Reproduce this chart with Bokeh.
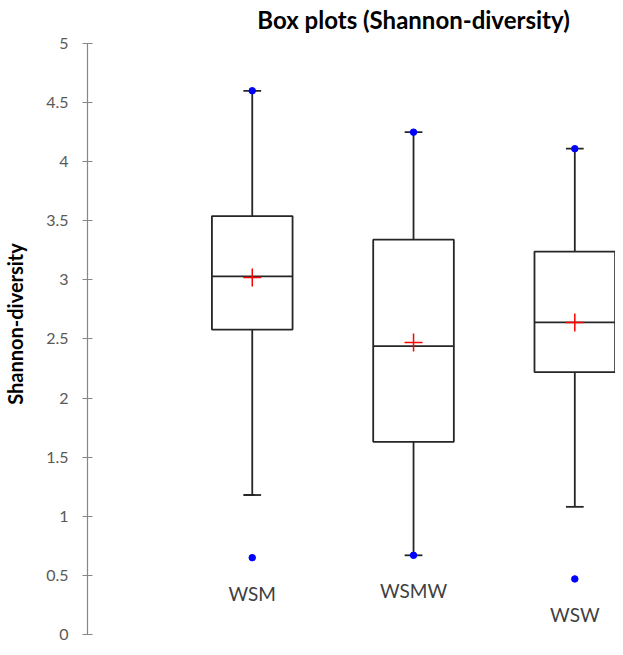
from bokeh.plotting import figure
from bokeh.models import Range1d, FixedTicker
from bokeh.core.properties import value
from bokeh.embed import file_html
from bokeh.resources import INLINE

# ---- data ----
categories = ["WSM", "WSMW", "WSW"]
whisker_high = [4.60, 4.25, 4.11]
q3 = [3.54, 3.34, 3.24]
median = [3.03, 2.44, 2.64]
mean = [3.02, 2.47, 2.64]
q1 = [2.58, 1.63, 2.22]
whisker_low = [1.18, 0.67, 1.08]
minimum = [0.65, 0.67, 0.47]
maximum = [4.60, 4.25, 4.11]
y_ticks = [0, 0.5, 1, 1.5, 2, 2.5, 3, 3.5, 4, 4.5, 5]
y_tick_labels = ["0", "0.5", "1", "1.5", "2", "2.5", "3", "3.5", "4", "4.5", "5"]
title_text = "Box plots (Shannon-diversity)"
y_title = "Shannon-diversity"

xs = [i + 1 for i in range(len(categories))]
box_w = 0.25
cap_w = 0.055

p = figure(width=615, height=647, output_backend="svg", toolbar_location=None,
           x_range=Range1d(-0.0215, 3.2523), y_range=Range1d(-0.11, 5.3638),
           x_axis_location=None, min_border_left=83, min_border_right=0,
           min_border_top=0, min_border_bottom=0)
p.outline_line_color = None
p.xgrid.visible = False
p.ygrid.visible = False
p.background_fill_color = "white"

ax = p.yaxis[0]
ax.ticker = FixedTicker(ticks=y_ticks)
ax.major_label_overrides = {t: l for t, l in zip(y_ticks, y_tick_labels)}
ax.bounds = (0, 5)
ax.minor_tick_line_color = None
ax.axis_line_color = "#868686"
ax.major_tick_line_color = "#868686"
ax.axis_line_width = 1.2
ax.major_tick_line_width = 1.2
ax.major_tick_in = 5
ax.major_tick_out = 5
ax.major_label_standoff = 14
ax.major_label_text_font = "Lato"
ax.major_label_text_font_size = "16px"
ax.major_label_text_color = "#595959"
ax.axis_label = y_title
ax.axis_label_text_font = "Lato"
ax.axis_label_text_font_style = "bold"
ax.axis_label_text_font_size = "20px"
ax.axis_label_text_color = "#000000"
ax.axis_label_standoff = 16

line_c = "#262626"
lw = 1.8
# whiskers
p.segment(x0=xs, y0=q3, x1=xs, y1=whisker_high, line_color=line_c, line_width=lw)
p.segment(x0=xs, y0=q1, x1=xs, y1=whisker_low, line_color=line_c, line_width=lw)
# caps
p.segment(x0=[x - cap_w for x in xs], y0=whisker_high, x1=[x + cap_w for x in xs], y1=whisker_high,
          line_color=line_c, line_width=lw)
p.segment(x0=[x - cap_w for x in xs], y0=whisker_low, x1=[x + cap_w for x in xs], y1=whisker_low,
          line_color=line_c, line_width=lw)
# boxes
p.quad(left=[x - box_w for x in xs], right=[x + box_w for x in xs], bottom=q1, top=q3,
       fill_color=None, line_color=line_c, line_width=lw)
# medians
p.segment(x0=[x - box_w for x in xs], y0=median, x1=[x + box_w for x in xs], y1=median,
          line_color=line_c, line_width=lw)
# min / max markers
p.scatter(x=xs, y=minimum, marker="circle", size=6.5, fill_color="#0000ff", line_color="#0000ff")
p.scatter(x=xs, y=maximum, marker="circle", size=6.5, fill_color="#0000ff", line_color="#0000ff")
# means
p.scatter(x=xs, y=mean, marker="cross", size=18, line_color="#ff0000", line_width=1.5)

# category labels below minimum
p.text(x=xs, y=[m - 0.30 for m in minimum], text=categories, text_align="center",
       text_baseline="middle", text_font=value("Lato"), text_font_size="19px",
       text_color="#404040")

# title
p.text(x=[2.0], y=[5.2], text=[title_text], text_align="center", text_baseline="middle",
       text_font=value("Lato"), text_font_style="bold", text_font_size="24px", text_color="#000000")

open("out.html", "w").write(file_html(p, INLINE))
